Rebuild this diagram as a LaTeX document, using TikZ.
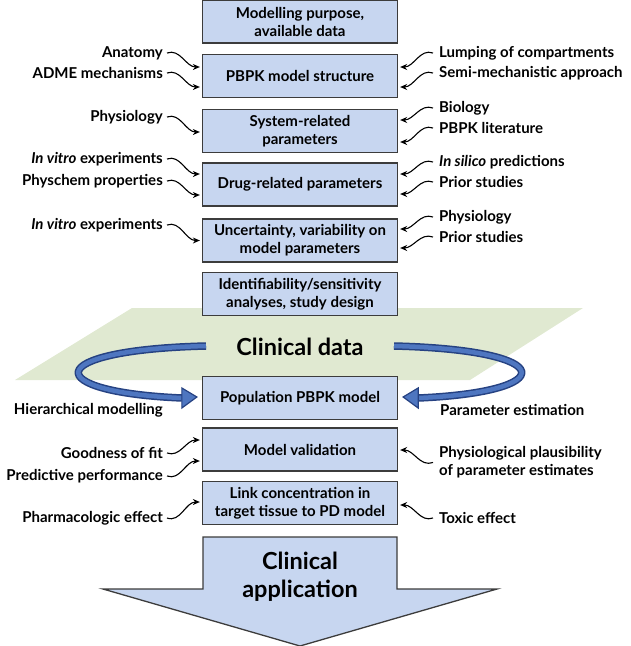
\documentclass[tikz,border=0pt]{standalone}
\usepackage{fontspec}
\setmainfont{Lato}
\usetikzlibrary{arrows.meta}
\definecolor{boxblue}{RGB}{199,214,240}
\definecolor{boxline}{RGB}{60,60,60}
\definecolor{planegreen}{RGB}{224,233,209}
\definecolor{loopdark}{RGB}{38,66,130}
\definecolor{loopmid}{RGB}{78,118,192}
\begin{document}
\begin{tikzpicture}[x=1pt,y=-1pt,
  stepbox/.style={draw=boxline, line width=1.3pt, fill=boxblue, minimum width=195pt, minimum height=43pt, align=center, font=\fontsize{15}{18}\selectfont\bfseries, inner sep=2pt},
  lbl/.style={font=\fontsize{15}{18}\selectfont\bfseries, inner sep=0pt, align=left},
  lblL/.style={lbl, anchor=east},
  lblR/.style={lbl, anchor=west},
  squig/.style={line width=1.1pt, -{Stealth[length=7pt,width=6pt]}},
  loopband/.style={line width=7.5pt, draw=loopdark},
  loopinner/.style={line width=4.5pt, draw=loopmid},
  loophead/.style={fill=loopmid, draw=loopdark, line width=1.2pt, line join=miter},
  bigtext/.style={font=\fontsize{23.5}{28}\selectfont\bfseries, align=center, inner sep=0pt}
]
\useasboundingbox (0,0) rectangle (630,646);

% clinical data plane
\fill[planegreen] (132,308) -- (583,308) -- (470,380) -- (15,380) -- cycle;

% main boxes
\node[stepbox] (b1) at (300,21.5) {Modelling purpose,\\available data};
\node[stepbox] (b2) at (300,76) {PBPK model structure};
\node[stepbox] (b3) at (300,131) {System-related\\parameters};
\node[stepbox] (b4) at (300,184.5) {Drug-related parameters};
\node[stepbox] (b5) at (300,240.5) {Uncertainty, variability on\\model parameters};
\node[stepbox] (b6) at (300,294) {Identifiability/sensitivity\\analyses, study design};
\node[bigtext] (cd) at (300,347) {Clinical data};
\node[stepbox] (b7) at (300,398) {Population PBPK model};
\node[stepbox] (b8) at (300,449.5) {Model validation};
\node[stepbox] (b9) at (300,503) {Link concentration in\\target tissue to PD model};

% big arrow
\draw[draw=boxline, line width=1.3pt, fill=boxblue, line join=miter]
  (203,537) -- (397,537) -- (397,589) -- (497,589) -- (300,646) -- (103,589) -- (203,589) -- cycle;
\node[bigtext] (app) at (300,577) {Clinical\\application};

% left labels
\node[lblL] (la1) at (163,53) {Anatomy};
\node[lblL] (la2) at (163,73) {ADME mechanisms};
\node[lblL] (la3) at (163,117) {Physiology};
\node[lblL] (la4) at (163,159) {\textit{In vitro} experiments};
\node[lblL] (la5) at (163,181) {Physchem properties};
\node[lblL] (la6) at (163,225) {\textit{In vitro} experiments};
\node[lblL] (la7) at (163,410) {Hierarchical modelling};
\node[lblL] (la8) at (163,453) {Goodness of fit};
\node[lblL] (la9) at (163,476) {Predictive performance};
\node[lblL] (la10) at (163,518) {Pharmacologic effect};

% right labels
\node[lblR] (ra1) at (439,53) {Lumping of compartments};
\node[lblR] (ra2) at (439,73) {Semi-mechanistic approach};
\node[lblR] (ra3) at (439,108) {Biology};
\node[lblR] (ra4) at (439,128) {PBPK literature};
\node[lblR] (ra5) at (439,162) {\textit{In silico} predictions};
\node[lblR] (ra6) at (439,182) {Prior studies};
\node[lblR] (ra7) at (439,217) {Physiology};
\node[lblR] (ra8) at (439,237) {Prior studies};
\node[lblR] (ra9) at (440,410) {Parameter estimation};
\node[lblR] (ra10) at (439,462.5) {Physiological plausibility\\of parameter estimates};
\node[lblR] (ra11) at (439,518) {Toxic effect};

% left squiggle connectors
\draw[squig] ([xshift=4pt]la1.east) to[out=20,in=180] ([xshift=-2pt,yshift=9pt]b2.west);
\draw[squig] ([xshift=4pt]la2.east) to[out=20,in=180] ([xshift=-2pt,yshift=-11pt]b2.west);
\draw[squig] ([xshift=4pt]la3.east) to[out=20,in=180] ([xshift=-2pt,yshift=-1pt]b3.west);
\draw[squig] ([xshift=4pt]la4.east) to[out=20,in=180] ([xshift=-2pt,yshift=10.5pt]b4.west);
\draw[squig] ([xshift=4pt]la5.east) to[out=20,in=180] ([xshift=-2pt,yshift=-10.5pt]b4.west);
\draw[squig] ([xshift=4pt]la6.east) to[out=20,in=180] ([xshift=-2pt,yshift=0pt]b5.west);
\draw[squig] ([xshift=4pt]la8.east) to[out=-20,in=180] ([xshift=-2pt,yshift=9.5pt]b8.west);
\draw[squig] ([xshift=4pt]la9.east) to[out=-20,in=180] ([xshift=-2pt,yshift=-11.5pt]b8.west);
\draw[squig] ([xshift=4pt]la10.east) to[out=-20,in=180] ([xshift=-2pt,yshift=1pt]b9.west);

% right squiggle connectors
\draw[squig] ([xshift=-6pt]ra1.west) to[out=160,in=0] ([xshift=2pt,yshift=9pt]b2.east);
\draw[squig] ([xshift=-6pt]ra2.west) to[out=160,in=0] ([xshift=2pt,yshift=-11pt]b2.east);
\draw[squig] ([xshift=-6pt]ra3.west) to[out=160,in=0] ([xshift=2pt,yshift=11pt]b3.east);
\draw[squig] ([xshift=-6pt]ra4.west) to[out=160,in=0] ([xshift=2pt,yshift=-11pt]b3.east);
\draw[squig] ([xshift=-6pt]ra5.west) to[out=160,in=0] ([xshift=2pt,yshift=10.5pt]b4.east);
\draw[squig] ([xshift=-6pt]ra6.west) to[out=160,in=0] ([xshift=2pt,yshift=-9.5pt]b4.east);
\draw[squig] ([xshift=-6pt]ra7.west) to[out=160,in=0] ([xshift=2pt,yshift=11.5pt]b5.east);
\draw[squig] ([xshift=-6pt]ra8.west) to[out=160,in=0] ([xshift=2pt,yshift=-7.5pt]b5.east);
\draw[squig] ([xshift=-6pt]ra10.west) to[out=200,in=0] ([xshift=2pt,yshift=-0.5pt]b8.east);
\draw[squig] ([xshift=-6pt]ra11.west) to[out=200,in=0] ([xshift=2pt,yshift=-2pt]b9.east);

% loop arrows
\coordinate (ls) at (206,346);
\coordinate (le) at ([xshift=-20pt]b7.west);
\coordinate (rs) at (394,346);
\coordinate (re) at ([xshift=20pt]b7.east);
\draw[loopband] (ls) .. controls (40,350) and (40,392) .. (le);
\draw[loopinner] (ls) .. controls (40,350) and (40,392) .. (le);
\draw[loophead] ([yshift=10pt]le) -- ([xshift=15pt,yshift=1pt]le) -- ([yshift=-10pt]le) -- cycle;
\draw[loopband] (rs) .. controls (560,350) and (560,392) .. (re);
\draw[loopinner] (rs) .. controls (560,350) and (560,392) .. (re);
\draw[loophead] ([yshift=10pt]re) -- ([xshift=-15pt,yshift=1pt]re) -- ([yshift=-10pt]re) -- cycle;
\end{tikzpicture}
\end{document}
